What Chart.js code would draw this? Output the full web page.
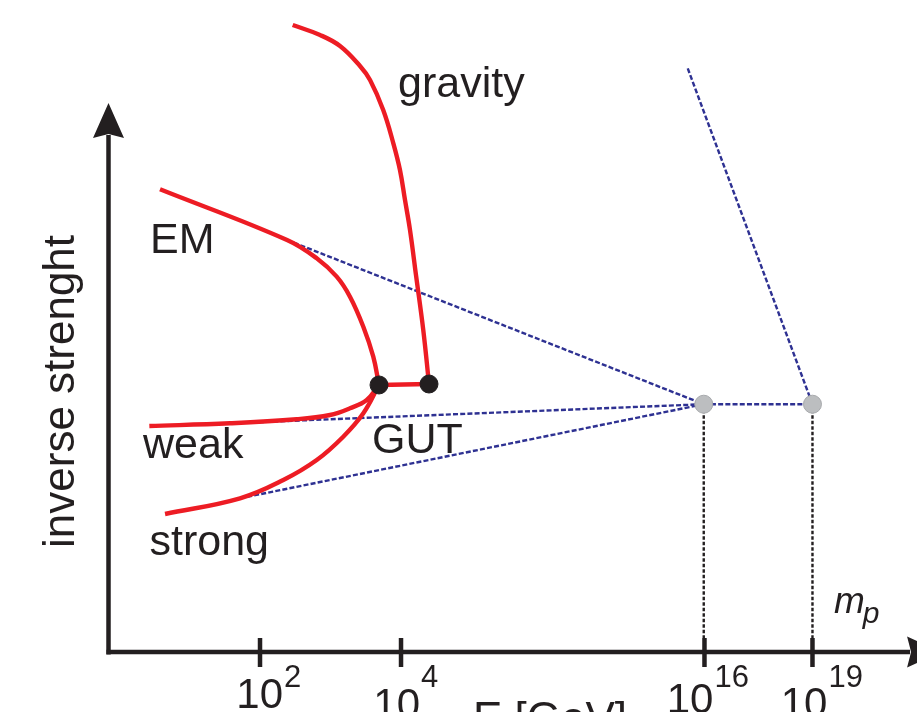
<!DOCTYPE html>
<html><head><meta charset="utf-8">
<script src="https://cdn.jsdelivr.net/npm/chart.js@4.4.0/dist/chart.umd.min.js"></script>
<style>html,body{margin:0;padding:0;background:#fff;overflow:hidden}canvas{display:block}</style>
</head><body>
<canvas id="c" width="917" height="712"></canvas>
<script>
// Schematic units: x = position along the energy axis (0..100), y = inverse strength (0..100)
const tickPositions = [18.79, 36.22, 73.73, 87.08];
const tickBase = ['10', '10', '10', '10'];
const tickExponents = ['2', '4', '16', '19'];

const emCurve = [[6.43,72.64],[22.13,64.68],[25.80,61.81],[28.27,58.92],[29.91,55.78],[31.56,51.07],[32.79,46.36],[33.50,41.92]];
const weakCurve = [[5.11,35.48],[15.08,35.90],[23.32,36.53],[27.44,37.21],[29.91,38.26],[31.98,39.56],[33.50,41.92]];
const strongCurve = [[7.05,21.66],[16.32,24.13],[21.67,27.00],[25.80,30.14],[29.08,33.80],[31.56,37.47],[33.50,41.92]];
const gravityCurve = [[22.83,98.43],[26.21,96.86],[28.68,95.13],[31.15,91.99],[32.39,89.80],[34.02,85.09],[35.27,79.86],[36.09,75.67],[36.71,70.96],[37.33,66.25],[38.07,59.18],[38.97,50.55],[39.68,42.07]];
const gutLink = [[33.50,41.92],[39.68,42.07]];
const gutPoints = [[33.50,41.92],[39.68,42.07]];
const unificationPoints = [[73.64,38.90],[87.08,38.90]];
const emExtrap = [[22.13,64.68],[73.64,38.90]];
const weakExtrap = [[15.08,35.90],[73.64,38.90]];
const strongExtrap = [[16.32,24.13],[73.64,38.90]];
const planckLink = [[73.64,38.90],[87.08,38.90]];
const gravityExtrap = [[71.66,91.63],[87.08,38.90]];
const drop16 = [[73.64,38.90],[73.64,2.2]];
const drop19 = [[87.08,38.90],[87.08,2.2]];

const curveLabels = ['EM', 'weak', 'strong', 'GUT', 'gravity'];
const yTitle = 'inverse strenght';
const xTitle = 'E [GeV]';
const planckMass = ['m', 'p'];

// placement (not data)
const labelAnchors = [[5.19,62.59],[4.33,30.46],[5.13,15.23],[32.63,31.24],[35.85,87.05]];
const tickDx = [0, -4, -14, -8];
const tickDy = [56, 66, 61, 65];

const INK = '#231f20', RED = '#ed1c24', BLUE = '#2e3192';
const FONT = '"Liberation Sans", Arial, Helvetica, sans-serif';
const toXY = a => a.map(p => ({x: p[0], y: p[1]}));

function straight(data, color, width, dash, order) {
  return {type: 'line', data: toXY(data), borderColor: color, borderWidth: width, borderDash: dash,
    pointRadius: 0, fill: false, tension: 0, order, clip: false};
}
function curve(data, order) {
  return {type: 'line', data: toXY(data), borderColor: RED, borderWidth: 4.4,
    pointRadius: 0, fill: false, tension: 0.4, order, clip: false};
}
function dots(data, fill, border, order) {
  return {type: 'scatter', data: toXY(data), pointRadius: 9, pointHoverRadius: 9,
    pointBackgroundColor: fill, pointBorderColor: border, pointBorderWidth: 1, showLine: false, order, clip: false};
}

const decor = {
  id: 'decor',
  afterDatasetsDraw(chart) {
    const {ctx, scales: {x, y}} = chart;
    const x0 = x.getPixelForValue(0) + 0.5, y0 = y.getPixelForValue(0);
    ctx.save();
    ctx.strokeStyle = INK; ctx.fillStyle = INK; ctx.lineWidth = 4.5; ctx.lineCap = 'butt';
    // y axis with arrow
    const yTip = y.getPixelForValue(86.2);
    ctx.beginPath(); ctx.moveTo(x0, y0 + 2.5); ctx.lineTo(x0, yTip + 32); ctx.stroke();
    ctx.beginPath(); ctx.moveTo(x0, yTip); ctx.lineTo(x0 + 15.5, yTip + 35); ctx.lineTo(x0, yTip + 31);
    ctx.lineTo(x0 - 15.5, yTip + 35); ctx.closePath(); ctx.fill();
    // x axis with arrow
    const xTip = x.getPixelForValue(103.1);
    ctx.beginPath(); ctx.moveTo(x0 - 2, y0); ctx.lineTo(xTip - 32, y0); ctx.stroke();
    ctx.beginPath(); ctx.moveTo(xTip, y0); ctx.lineTo(xTip - 35, y0 - 15.5); ctx.lineTo(xTip - 31, y0);
    ctx.lineTo(xTip - 35, y0 + 15.5); ctx.closePath(); ctx.fill();
    // ticks and labels
    ctx.textBaseline = 'alphabetic';
    tickPositions.forEach((t, i) => {
      const px = x.getPixelForValue(t);
      ctx.lineWidth = 4.5;
      ctx.beginPath(); ctx.moveTo(px, y0 - 14); ctx.lineTo(px, y0 + 15); ctx.stroke();
      const right = px + 23 + tickDx[i];
      ctx.font = '42px ' + FONT; ctx.textAlign = 'right';
      ctx.fillText(tickBase[i], right, y0 + tickDy[i]);
      ctx.font = '31px ' + FONT; ctx.textAlign = 'left';
      ctx.fillText(tickExponents[i], right + 1, y0 + 35);
    });
    // curve labels
    ctx.font = '43px ' + FONT; ctx.textAlign = 'left';
    curveLabels.forEach((s, i) => {
      ctx.fillText(s, x.getPixelForValue(labelAnchors[i][0]), y.getPixelForValue(labelAnchors[i][1]));
    });
    // x title (mostly below the visible area)
    ctx.font = '44px ' + FONT;
    ctx.fillText(xTitle, x.getPixelForValue(45.12), y0 + 81);
    // Planck mass label
    ctx.font = 'italic 37px ' + FONT;
    ctx.fillText(planckMass[0], x.getPixelForValue(89.74), y.getPixelForValue(6.12));
    ctx.font = 'italic 30px ' + FONT;
    ctx.fillText(planckMass[1], x.getPixelForValue(93.3), y.getPixelForValue(4.55));
    // y title
    ctx.save();
    ctx.translate(x0 - 35, y.getPixelForValue(40.9));
    ctx.rotate(-Math.PI / 2);
    ctx.font = '44px ' + FONT; ctx.textAlign = 'center';
    ctx.fillText(yTitle, 0, 0);
    ctx.restore();
    ctx.restore();
  }
};

new Chart(document.getElementById('c'), {
  type: 'line',
  data: {
    datasets: [
      dots(gutPoints, INK, INK, 0),
      dots(unificationPoints, '#bcbec0', '#a7a9ac', 0),
      curve(emCurve, 1),
      curve(weakCurve, 1),
      curve(strongCurve, 1),
      curve(gravityCurve, 1),
      straight(gutLink, RED, 4.4, [], 1),
      straight(emExtrap, BLUE, 2.4, [5, 2.2], 2),
      straight(weakExtrap, BLUE, 2.4, [5, 2.2], 2),
      straight(strongExtrap, BLUE, 2.4, [5, 2.2], 2),
      straight(planckLink, BLUE, 2.4, [5, 2.2], 2),
      straight(gravityExtrap, BLUE, 2.4, [5, 2.2], 2),
      straight(drop16, INK, 2.4, [3.5, 2], 3),
      straight(drop19, INK, 2.4, [3.5, 2], 3)
    ]
  },
  options: {
    responsive: false,
    animation: false,
    devicePixelRatio: 1,
    layout: {autoPadding: false, padding: {left: 108, right: 0, top: 15, bottom: 60}},
    plugins: {legend: {display: false}, tooltip: {enabled: false}},
    events: [],
    scales: {
      x: {type: 'linear', min: 0, max: 100, display: false},
      y: {type: 'linear', min: 0, max: 100, display: false}
    }
  },
  plugins: [decor]
});
</script>
</body></html>
